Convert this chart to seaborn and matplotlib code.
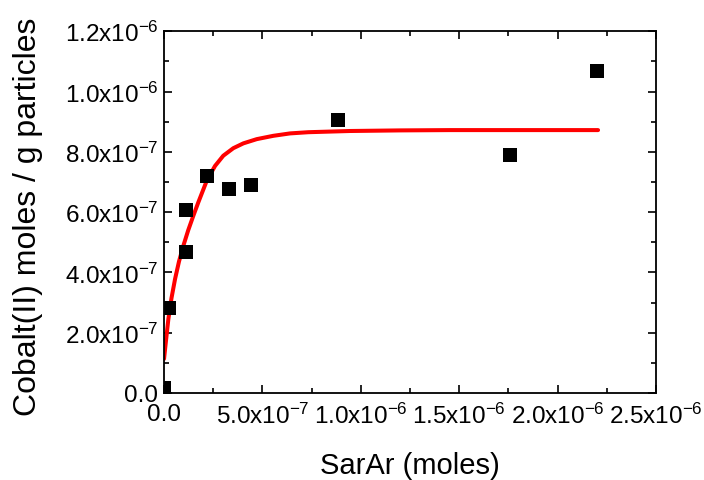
import math
import matplotlib
matplotlib.use('Agg')
import matplotlib.pyplot as plt
import seaborn as sns
import pandas as pd
from matplotlib.ticker import FixedLocator, FuncFormatter, MultipleLocator

# measured points (moles SarAr vs Co(II) moles / g)
sarar = [0.0, 0.023e-6, 0.112e-6, 0.112e-6, 0.218e-6, 0.330e-6, 0.440e-6, 0.882e-6, 1.758e-6, 2.200e-6]
cobalt = [0.018e-6, 0.282e-6, 0.467e-6, 0.607e-6, 0.721e-6, 0.678e-6, 0.689e-6, 0.905e-6, 0.789e-6, 1.067e-6]

# fitted curve
fit_x = [0.0, 0.011e-6, 0.022e-6, 0.038e-6, 0.056e-6, 0.076e-6, 0.098e-6, 0.123e-6, 0.149e-6,
         0.174e-6, 0.217e-6, 0.259e-6, 0.301e-6, 0.352e-6, 0.403e-6, 0.471e-6, 0.555e-6,
         0.640e-6, 0.733e-6, 0.945e-6, 1.200e-6, 1.453e-6, 2.205e-6]
fit_y = [0.113e-6, 0.180e-6, 0.245e-6, 0.315e-6, 0.378e-6, 0.436e-6, 0.488e-6, 0.540e-6, 0.588e-6,
         0.632e-6, 0.704e-6, 0.753e-6, 0.787e-6, 0.812e-6, 0.828e-6, 0.842e-6, 0.853e-6,
         0.861e-6, 0.865e-6, 0.869e-6, 0.871e-6, 0.872e-6, 0.872e-6]

x_ticks = [0.0, 0.5e-6, 1.0e-6, 1.5e-6, 2.0e-6, 2.5e-6]
y_ticks = [0.0, 0.2e-6, 0.4e-6, 0.6e-6, 0.8e-6, 1.0e-6, 1.2e-6]

pts = pd.DataFrame({'x': sarar, 'y': cobalt})
fit = pd.DataFrame({'x': fit_x, 'y': fit_y})

sns.set_style('ticks')
plt.rcParams['font.family'] = ['Liberation Sans', 'DejaVu Sans']
plt.rcParams['mathtext.fontset'] = 'custom'
plt.rcParams['mathtext.rm'] = 'Liberation Sans'
plt.rcParams['mathtext.it'] = 'Liberation Sans'

fig = plt.figure(figsize=(7.04, 4.81), dpi=100)
ax = fig.add_axes([0.233, 0.181, 0.699, 0.752])

sns.lineplot(data=fit, x='x', y='y', color='#ff0000', linewidth=2.9, ax=ax, zorder=2)
sns.scatterplot(data=pts, x='x', y='y', marker='s', s=95, color='black',
                edgecolor='black', linewidth=0, ax=ax, zorder=3)

ax.set_xlim(0, 2.5e-6)
ax.set_ylim(0, 1.2e-6)


def sci(v, pos):
    if v == 0:
        return '0.0'
    e = int(math.floor(math.log10(abs(v)) + 1e-9))
    m = v / 10 ** e
    return '%.1fx10$^{\\mathregular{%d}}$' % (m, e)


ax.xaxis.set_major_locator(FixedLocator(x_ticks))
ax.yaxis.set_major_locator(FixedLocator(y_ticks))
ax.xaxis.set_major_formatter(FuncFormatter(sci))
ax.yaxis.set_major_formatter(FuncFormatter(sci))
ax.xaxis.set_minor_locator(MultipleLocator(0.25e-6))
ax.yaxis.set_minor_locator(MultipleLocator(0.1e-6))

ax.tick_params(which='both', direction='in', top=True, right=True, width=1.2, colors='black',
               labelsize=17.5)
ax.tick_params(axis='y', pad=4)
ax.tick_params(axis='x', pad=7)
ax.tick_params(which='major', length=6)
ax.tick_params(which='minor', length=3.5)
for sp in ax.spines.values():
    sp.set_linewidth(1.3)
    sp.set_color('black')

ax.set_xlabel('SarAr (moles)', fontsize=21, color='black')
ax.set_ylabel('Cobalt(II) moles / g particles', fontsize=23, color='black')
ax.xaxis.set_label_coords(0.5, -0.16)
ax.yaxis.set_label_coords(-0.245, 0.49)

fig.savefig('out.png', dpi=100)
